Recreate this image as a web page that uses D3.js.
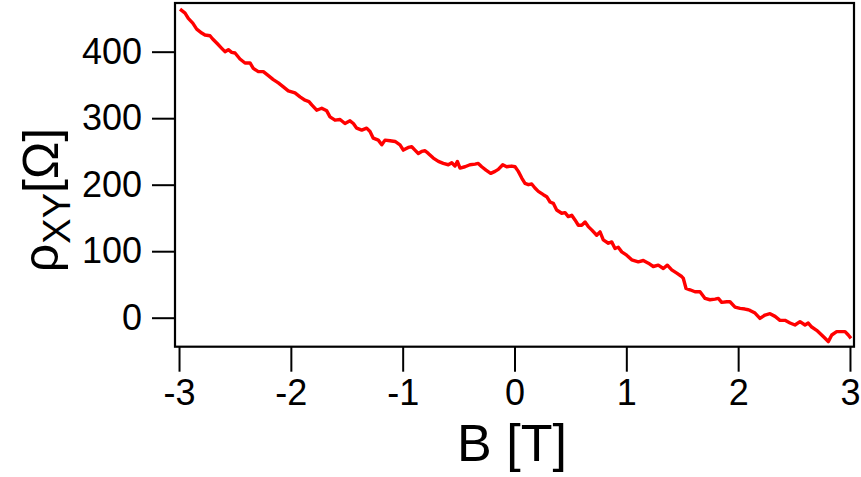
<!DOCTYPE html>
<html><head><meta charset="utf-8">
<script src="https://cdn.jsdelivr.net/npm/d3@7"></script>
<style>body{margin:0;background:#fff}svg{display:block}</style>
</head><body>
<svg id="c" width="861" height="477"></svg>
<script>
const fieldB = [-2.991,-2.946,-2.917,-2.877,-2.842,-2.797,-2.768,-2.723,-2.699,-2.663,-2.618,-2.589,-2.559,-2.529,-2.499,-2.455,-2.410,-2.365,-2.336,-2.291,-2.246,-2.201,-2.157,-2.112,-2.067,-2.023,
-1.963,-1.918,-1.873,-1.838,-1.813,-1.769,-1.724,-1.679,-1.650,-1.605,-1.560,-1.516,-1.471,-1.441,-1.411,-1.366,-1.322,-1.292,-1.263,-1.218,-1.187,-1.158,-1.113,-1.068,-1.024,-0.994,
-0.950,-0.919,-0.890,-0.860,-0.830,-0.800,-0.771,-0.726,-0.681,-0.637,-0.592,-0.561,-0.532,-0.511,-0.487,-0.443,-0.398,-0.353,-0.324,-0.293,-0.255,-0.213,-0.174,-0.145,-0.105,-0.070,-0.025,0.005,0.034,
0.065,0.094,0.124,0.154,0.183,0.213,0.258,0.288,0.318,0.347,0.377,0.422,0.452,0.481,0.512,0.541,0.571,0.601,0.631,0.660,0.690,0.735,0.765,0.794,0.839,0.869,0.899,0.928,0.959,1.003,1.048,
1.107,1.152,1.197,1.241,1.286,1.331,1.367,1.406,1.451,1.495,1.510,1.534,1.569,1.614,1.659,1.704,1.748,1.793,1.823,1.853,1.898,1.927,1.972,2.017,2.061,2.091,
2.106,2.151,2.195,2.240,2.285,2.330,2.374,2.419,2.464,2.508,2.553,2.598,2.627,2.658,2.702,2.747,2.777,2.806,2.837,2.881,2.926,2.956,2.985,3.009];
const rhoXY = [464,458,450,443,434,428,425,424,419,413,405,400,403,399,398,389,383,383,375,370,370,364,358,353,347,341,
338,332,327,325,320,312,315,311,302,297,298,292,296,292,285,282,285,280,270,267,260,267,266,265,260,252,
256,257,252,247,250,251,247,240,235,232,230,233,228,235,225,227,230,231,232,227,222,217,220,223,230,227,228,227,220,
210,202,200,201,195,190,185,182,174,172,162,157,158,152,154,147,139,139,144,137,132,124,129,117,112,114,104,106,99,94,87,
84,86,82,77,79,74,79,72,67,62,59,44,42,39,39,29,27,28,29,23,24,24,16,14,13,12,
11,7,-1,4,6,2,-4,-4,-8,-11,-6,-11,-8,-14,-19,-26,-31,-36,-26,-21,-21,-21,-26,-31];
const xTickValues = [-3,-2,-1,0,1,2,3];
const yTickValues = [0,100,200,300,400];
const xTitle = "B [T]";

const svg = d3.select("#c");
const font = "'Liberation Sans', Arial, Helvetica, sans-serif";
const L = 175, R = 854, T = 3, Bm = 346.7;
const x = d3.scaleLinear().domain([-3.036, 3.036]).range([L, R]);
const y = d3.scaleLinear().domain([-43.6, 473.2]).range([Bm, T]);

const xAxis = svg.append("g").attr("transform", `translate(0,${Bm})`)
  .call(d3.axisBottom(x).tickValues(xTickValues).tickSize(25).tickPadding(8).tickFormat(d3.format("d")));
const yAxis = svg.append("g").attr("transform", `translate(${L},0)`)
  .call(d3.axisLeft(y).tickValues(yTickValues).tickSize(23).tickPadding(10).tickFormat(d3.format("d")));
[xAxis, yAxis].forEach(g => {
  g.select(".domain").remove();
  g.selectAll(".tick line").attr("stroke", "#000").attr("stroke-width", 2);
  g.selectAll(".tick text").attr("fill", "#000").style("font-family", font).style("font-size", "36px");
});
xAxis.selectAll(".tick text").text(d => d < 0 ? "-" + Math.abs(d) : String(d));

svg.append("defs").append("clipPath").attr("id", "clip")
  .append("rect").attr("x", L).attr("y", T).attr("width", R - L).attr("height", Bm - T);

const pts = fieldB.map((b, i) => [b, rhoXY[i]]);
svg.append("path").datum(pts)
  .attr("clip-path", "url(#clip)")
  .attr("fill", "none").attr("stroke", "#ff0000").attr("stroke-width", 3.4)
  .attr("stroke-linejoin", "round")
  .attr("d", d3.line().x(d => x(d[0])).y(d => y(d[1])));

svg.append("rect").attr("x", L).attr("y", T).attr("width", R - L).attr("height", Bm - T)
  .attr("fill", "none").attr("stroke", "#000").attr("stroke-width", 2.2);

svg.append("text").attr("x", 512).attr("y", 461).attr("text-anchor", "middle")
  .style("font-family", font).style("font-size", "52px").attr("fill", "#000").text(xTitle);

const yt = svg.append("text").attr("transform", "translate(58,200) rotate(-90)")
  .attr("text-anchor", "middle").style("font-family", font).style("font-size", "50px").attr("fill", "#000");
yt.append("tspan").text("ρ");
yt.append("tspan").attr("dy", 12).style("font-size", "38px").text("XY");
yt.append("tspan").attr("dy", -12).text("[Ω]");
</script>
</body></html>
